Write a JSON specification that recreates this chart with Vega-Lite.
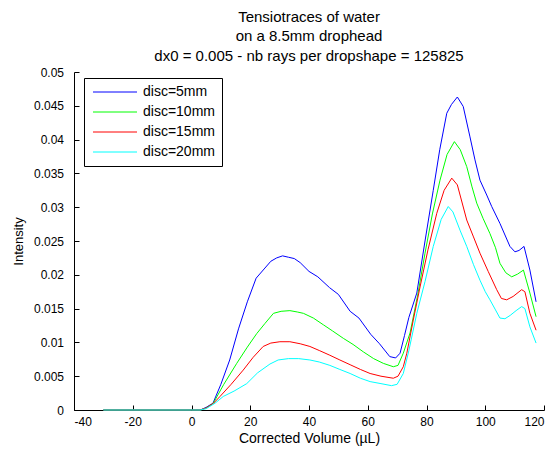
{
  "$schema": "https://vega.github.io/schema/vega-lite/v6.json",
  "width": 470,
  "height": 338,
  "autosize": {"type": "none"},
  "padding": {"left": 74, "top": 72, "right": 11, "bottom": 42},
  "background": "white",
  "title": {
    "text": ["Tensiotraces of water", "on a 8.5mm drophead", "dx0 = 0.005 - nb rays per dropshape = 125825"],
    "fontSize": 15,
    "fontWeight": "normal",
    "font": "Liberation Sans",
    "color": "black",
    "anchor": "middle",
    "frame": "group",
    "lineHeight": 19.7,
    "offset": 2
  },
  "data": {
    "values": [
      {"series": "disc=5mm", "x": -30, "y": 0},
      {"series": "disc=5mm", "x": 0, "y": 0},
      {"series": "disc=5mm", "x": 3, "y": 0},
      {"series": "disc=5mm", "x": 5, "y": 0.0004},
      {"series": "disc=5mm", "x": 7.3, "y": 0.001},
      {"series": "disc=5mm", "x": 10, "y": 0.0038},
      {"series": "disc=5mm", "x": 13, "y": 0.0074},
      {"series": "disc=5mm", "x": 16, "y": 0.012},
      {"series": "disc=5mm", "x": 19, "y": 0.016},
      {"series": "disc=5mm", "x": 22, "y": 0.0195},
      {"series": "disc=5mm", "x": 25, "y": 0.021},
      {"series": "disc=5mm", "x": 27, "y": 0.022},
      {"series": "disc=5mm", "x": 29, "y": 0.0225},
      {"series": "disc=5mm", "x": 31, "y": 0.0228},
      {"series": "disc=5mm", "x": 33, "y": 0.0226},
      {"series": "disc=5mm", "x": 35, "y": 0.0224},
      {"series": "disc=5mm", "x": 37, "y": 0.0218},
      {"series": "disc=5mm", "x": 40, "y": 0.0205},
      {"series": "disc=5mm", "x": 43, "y": 0.0197},
      {"series": "disc=5mm", "x": 47, "y": 0.0181},
      {"series": "disc=5mm", "x": 50, "y": 0.0171},
      {"series": "disc=5mm", "x": 54, "y": 0.0146},
      {"series": "disc=5mm", "x": 57, "y": 0.0136},
      {"series": "disc=5mm", "x": 61, "y": 0.0112},
      {"series": "disc=5mm", "x": 64, "y": 0.0098},
      {"series": "disc=5mm", "x": 67.5, "y": 0.0079},
      {"series": "disc=5mm", "x": 69.5, "y": 0.0077},
      {"series": "disc=5mm", "x": 71, "y": 0.0084},
      {"series": "disc=5mm", "x": 72.5, "y": 0.011},
      {"series": "disc=5mm", "x": 74, "y": 0.0137},
      {"series": "disc=5mm", "x": 76.7, "y": 0.0173},
      {"series": "disc=5mm", "x": 79.5, "y": 0.025},
      {"series": "disc=5mm", "x": 82.3, "y": 0.0325},
      {"series": "disc=5mm", "x": 84.5, "y": 0.0385},
      {"series": "disc=5mm", "x": 86.9, "y": 0.0439},
      {"series": "disc=5mm", "x": 88.5, "y": 0.0452},
      {"series": "disc=5mm", "x": 90.5, "y": 0.0463},
      {"series": "disc=5mm", "x": 92.5, "y": 0.0449},
      {"series": "disc=5mm", "x": 94.8, "y": 0.0404},
      {"series": "disc=5mm", "x": 96.5, "y": 0.037},
      {"series": "disc=5mm", "x": 98.2, "y": 0.034},
      {"series": "disc=5mm", "x": 100.5, "y": 0.0318},
      {"series": "disc=5mm", "x": 102.2, "y": 0.0301},
      {"series": "disc=5mm", "x": 105, "y": 0.0276},
      {"series": "disc=5mm", "x": 108.4, "y": 0.0242},
      {"series": "disc=5mm", "x": 110.1, "y": 0.0234},
      {"series": "disc=5mm", "x": 111.5, "y": 0.0236},
      {"series": "disc=5mm", "x": 113.2, "y": 0.0242},
      {"series": "disc=5mm", "x": 115.2, "y": 0.0207},
      {"series": "disc=5mm", "x": 117.3, "y": 0.016},

      {"series": "disc=10mm", "x": -30, "y": 0},
      {"series": "disc=10mm", "x": 0, "y": 0},
      {"series": "disc=10mm", "x": 3, "y": 0},
      {"series": "disc=10mm", "x": 5, "y": 0.0003},
      {"series": "disc=10mm", "x": 7.4, "y": 0.001},
      {"series": "disc=10mm", "x": 11, "y": 0.0038},
      {"series": "disc=10mm", "x": 15.4, "y": 0.0069},
      {"series": "disc=10mm", "x": 19, "y": 0.0093},
      {"series": "disc=10mm", "x": 22.2, "y": 0.0113},
      {"series": "disc=10mm", "x": 25, "y": 0.0128},
      {"series": "disc=10mm", "x": 27.9, "y": 0.0143},
      {"series": "disc=10mm", "x": 30.5, "y": 0.0146},
      {"series": "disc=10mm", "x": 33.5, "y": 0.0147},
      {"series": "disc=10mm", "x": 36, "y": 0.0145},
      {"series": "disc=10mm", "x": 38.1, "y": 0.0143},
      {"series": "disc=10mm", "x": 41.5, "y": 0.0136},
      {"series": "disc=10mm", "x": 44.9, "y": 0.0126},
      {"series": "disc=10mm", "x": 48, "y": 0.0117},
      {"series": "disc=10mm", "x": 51.7, "y": 0.0106},
      {"series": "disc=10mm", "x": 55, "y": 0.0097},
      {"series": "disc=10mm", "x": 58.5, "y": 0.0086},
      {"series": "disc=10mm", "x": 62, "y": 0.0076},
      {"series": "disc=10mm", "x": 65.3, "y": 0.0069},
      {"series": "disc=10mm", "x": 68.7, "y": 0.0064},
      {"series": "disc=10mm", "x": 70.3, "y": 0.0066},
      {"series": "disc=10mm", "x": 72.1, "y": 0.0084},
      {"series": "disc=10mm", "x": 74.4, "y": 0.0114},
      {"series": "disc=10mm", "x": 77, "y": 0.017},
      {"series": "disc=10mm", "x": 79.5, "y": 0.0232},
      {"series": "disc=10mm", "x": 82, "y": 0.029},
      {"series": "disc=10mm", "x": 84.6, "y": 0.034},
      {"series": "disc=10mm", "x": 87, "y": 0.0378},
      {"series": "disc=10mm", "x": 89.5, "y": 0.0397},
      {"series": "disc=10mm", "x": 91.5, "y": 0.0385},
      {"series": "disc=10mm", "x": 93.7, "y": 0.036},
      {"series": "disc=10mm", "x": 95.5, "y": 0.033},
      {"series": "disc=10mm", "x": 97.1, "y": 0.0306},
      {"series": "disc=10mm", "x": 99.3, "y": 0.0283},
      {"series": "disc=10mm", "x": 101.6, "y": 0.0261},
      {"series": "disc=10mm", "x": 103.5, "y": 0.024},
      {"series": "disc=10mm", "x": 105, "y": 0.0217},
      {"series": "disc=10mm", "x": 107, "y": 0.0203},
      {"series": "disc=10mm", "x": 109, "y": 0.0197},
      {"series": "disc=10mm", "x": 111, "y": 0.0201},
      {"series": "disc=10mm", "x": 113, "y": 0.0207},
      {"series": "disc=10mm", "x": 115.2, "y": 0.0173},
      {"series": "disc=10mm", "x": 117.3, "y": 0.0138},

      {"series": "disc=15mm", "x": -30, "y": 0},
      {"series": "disc=15mm", "x": 0, "y": 0},
      {"series": "disc=15mm", "x": 3, "y": 0},
      {"series": "disc=15mm", "x": 5, "y": 0.0003},
      {"series": "disc=15mm", "x": 7.5, "y": 0.001},
      {"series": "disc=15mm", "x": 9.7, "y": 0.002},
      {"series": "disc=15mm", "x": 13.5, "y": 0.0038},
      {"series": "disc=15mm", "x": 17.6, "y": 0.0059},
      {"series": "disc=15mm", "x": 21, "y": 0.0078},
      {"series": "disc=15mm", "x": 24.4, "y": 0.0094},
      {"series": "disc=15mm", "x": 27, "y": 0.0099},
      {"series": "disc=15mm", "x": 30.1, "y": 0.0101},
      {"series": "disc=15mm", "x": 33.5, "y": 0.0101},
      {"series": "disc=15mm", "x": 37, "y": 0.0098},
      {"series": "disc=15mm", "x": 40.3, "y": 0.0094},
      {"series": "disc=15mm", "x": 43.5, "y": 0.0088},
      {"series": "disc=15mm", "x": 47.1, "y": 0.0081},
      {"series": "disc=15mm", "x": 50.5, "y": 0.0074},
      {"series": "disc=15mm", "x": 54, "y": 0.0067},
      {"series": "disc=15mm", "x": 57.5, "y": 0.006},
      {"series": "disc=15mm", "x": 60.8, "y": 0.0054},
      {"series": "disc=15mm", "x": 64.5, "y": 0.005},
      {"series": "disc=15mm", "x": 68.7, "y": 0.0047},
      {"series": "disc=15mm", "x": 70.3, "y": 0.005},
      {"series": "disc=15mm", "x": 72.1, "y": 0.0064},
      {"series": "disc=15mm", "x": 73.3, "y": 0.0084},
      {"series": "disc=15mm", "x": 75.5, "y": 0.0133},
      {"series": "disc=15mm", "x": 77.8, "y": 0.0182},
      {"series": "disc=15mm", "x": 80.5, "y": 0.0237},
      {"series": "disc=15mm", "x": 83.5, "y": 0.0291},
      {"series": "disc=15mm", "x": 86, "y": 0.0325},
      {"series": "disc=15mm", "x": 88.6, "y": 0.0343},
      {"series": "disc=15mm", "x": 90.5, "y": 0.0333},
      {"series": "disc=15mm", "x": 93.7, "y": 0.0281},
      {"series": "disc=15mm", "x": 96, "y": 0.0256},
      {"series": "disc=15mm", "x": 98.2, "y": 0.0232},
      {"series": "disc=15mm", "x": 101, "y": 0.0205},
      {"series": "disc=15mm", "x": 103.9, "y": 0.0178},
      {"series": "disc=15mm", "x": 105.5, "y": 0.0165},
      {"series": "disc=15mm", "x": 107.3, "y": 0.0163},
      {"series": "disc=15mm", "x": 109.5, "y": 0.0168},
      {"series": "disc=15mm", "x": 112.4, "y": 0.0178},
      {"series": "disc=15mm", "x": 113.5, "y": 0.0175},
      {"series": "disc=15mm", "x": 115.2, "y": 0.0143},
      {"series": "disc=15mm", "x": 117.3, "y": 0.0118},

      {"series": "disc=20mm", "x": -30, "y": 0},
      {"series": "disc=20mm", "x": 0, "y": 0},
      {"series": "disc=20mm", "x": 3, "y": 0},
      {"series": "disc=20mm", "x": 5, "y": 0.0002},
      {"series": "disc=20mm", "x": 8, "y": 0.001},
      {"series": "disc=20mm", "x": 10.8, "y": 0.002},
      {"series": "disc=20mm", "x": 14.5, "y": 0.0028},
      {"series": "disc=20mm", "x": 18.8, "y": 0.0039},
      {"series": "disc=20mm", "x": 22.5, "y": 0.0055},
      {"series": "disc=20mm", "x": 26.7, "y": 0.0068},
      {"series": "disc=20mm", "x": 29.5, "y": 0.0074},
      {"series": "disc=20mm", "x": 33, "y": 0.0076},
      {"series": "disc=20mm", "x": 36.5, "y": 0.0076},
      {"series": "disc=20mm", "x": 40.3, "y": 0.0074},
      {"series": "disc=20mm", "x": 43.5, "y": 0.0071},
      {"series": "disc=20mm", "x": 47.1, "y": 0.0066},
      {"series": "disc=20mm", "x": 50.5, "y": 0.006},
      {"series": "disc=20mm", "x": 54, "y": 0.0054},
      {"series": "disc=20mm", "x": 57.5, "y": 0.0047},
      {"series": "disc=20mm", "x": 60.8, "y": 0.0042},
      {"series": "disc=20mm", "x": 64.5, "y": 0.0039},
      {"series": "disc=20mm", "x": 68.1, "y": 0.0036},
      {"series": "disc=20mm", "x": 70, "y": 0.0038},
      {"series": "disc=20mm", "x": 72.1, "y": 0.0054},
      {"series": "disc=20mm", "x": 74, "y": 0.0088},
      {"series": "disc=20mm", "x": 76.7, "y": 0.0143},
      {"series": "disc=20mm", "x": 79.5, "y": 0.019},
      {"series": "disc=20mm", "x": 82.3, "y": 0.0242},
      {"series": "disc=20mm", "x": 85, "y": 0.0282},
      {"series": "disc=20mm", "x": 87.4, "y": 0.0301},
      {"series": "disc=20mm", "x": 89, "y": 0.0293},
      {"series": "disc=20mm", "x": 91.5, "y": 0.0265},
      {"series": "disc=20mm", "x": 93.7, "y": 0.0242},
      {"series": "disc=20mm", "x": 96, "y": 0.0215},
      {"series": "disc=20mm", "x": 98.2, "y": 0.0192},
      {"series": "disc=20mm", "x": 100, "y": 0.0175},
      {"series": "disc=20mm", "x": 101.6, "y": 0.0163},
      {"series": "disc=20mm", "x": 103.5, "y": 0.0148},
      {"series": "disc=20mm", "x": 105, "y": 0.0136},
      {"series": "disc=20mm", "x": 106.7, "y": 0.0135},
      {"series": "disc=20mm", "x": 108.5, "y": 0.014},
      {"series": "disc=20mm", "x": 110.5, "y": 0.0147},
      {"series": "disc=20mm", "x": 112.4, "y": 0.0153},
      {"series": "disc=20mm", "x": 113.5, "y": 0.015},
      {"series": "disc=20mm", "x": 115.2, "y": 0.0123},
      {"series": "disc=20mm", "x": 117.3, "y": 0.0099}
    ]
  },
  "mark": {"type": "line", "strokeWidth": 1},
  "encoding": {
    "x": {
      "field": "x",
      "type": "quantitative",
      "scale": {"domain": [-40, 120], "nice": false, "zero": false},
      "axis": {
        "values": [-40, -20, 0, 20, 40, 60, 80, 100, 120],
        "labelExpr": "replace(datum.label, '−', '-')",
        "title": "Corrected Volume (µL)",
        "titleFontSize": 14,
        "titlePadding": 4,
        "labelPadding": 11
      }
    },
    "y": {
      "field": "y",
      "type": "quantitative",
      "scale": {"domain": [0, 0.05], "nice": false, "zero": true},
      "axis": {
        "values": [0, 0.005, 0.01, 0.015, 0.02, 0.025, 0.03, 0.035, 0.04, 0.045, 0.05],
        "format": ".3~f",
        "title": "Intensity",
        "titleFontSize": 13,
        "titlePadding": 8,
        "labelPadding": 15.5
      }
    },
    "color": {
      "field": "series",
      "type": "nominal",
      "scale": {
        "domain": ["disc=5mm", "disc=10mm", "disc=15mm", "disc=20mm"],
        "range": ["#0000ff", "#00ff00", "#ff0000", "#00ffff"]
      },
      "legend": {
        "orient": "none",
        "legendX": 10,
        "legendY": 6,
        "title": null,
        "symbolType": "M-0.833,0H6.5",
        "symbolSize": 144,
        "symbolStrokeWidth": 1,
        "strokeColor": "black",
        "fillColor": "white",
        "padding": 7,
        "rowPadding": 6,
        "labelOffset": 38,
        "labelFontSize": 14,
        "labelFont": "Liberation Sans",
        "labelColor": "black",
        "cornerRadius": 0
      }
    }
  },
  "config": {
    "view": {"stroke": null},
    "axis": {
      "grid": false,
      "domainColor": "black",
      "tickColor": "black",
      "labelColor": "black",
      "titleColor": "black",
      "domainWidth": 1,
      "tickWidth": 1,
      "tickSize": -5,
      "labelFont": "Liberation Sans",
      "labelFontSize": 12,
      "titleFont": "Liberation Sans",
      "titleFontWeight": "normal"
    }
  }
}
